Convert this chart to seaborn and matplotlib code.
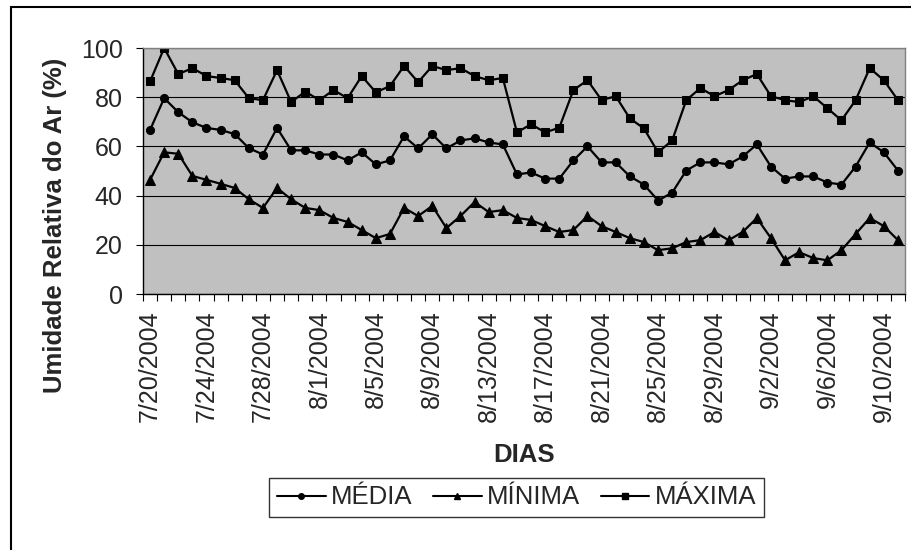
import seaborn as sns
import matplotlib.pyplot as plt
import matplotlib.patches as mpatches
from matplotlib.lines import Line2D
import numpy as np
import pandas as pd

# dados (umidade relativa do ar, %)
media = [66.7, 79.6, 73.9, 69.8, 67.5, 66.7, 65.0, 59.3, 56.7, 67.5,
         58.4, 58.4, 56.7, 56.7, 54.3, 57.6, 52.7, 54.3, 64.1, 59.2,
         64.9, 59.2, 62.4, 63.3, 61.6, 60.8, 48.6, 49.4, 46.9, 46.9,
         54.3, 60.0, 53.5, 53.5, 47.8, 44.5, 38.0, 41.2, 50.2, 53.5,
         53.5, 52.7, 55.9, 60.8, 51.8, 46.9, 47.8, 47.8, 45.3, 44.5,
         51.8, 61.6, 57.6, 50.2]
minima = [46.4, 57.6, 57.0, 48.0, 46.4, 44.8, 43.1, 38.5, 35.0, 43.1,
          38.5, 35.0, 34.1, 30.9, 29.3, 26.0, 22.7, 24.4, 35.0, 31.7,
          35.8, 26.8, 31.7, 37.4, 33.3, 34.1, 30.9, 30.1, 27.6, 25.2,
          26.0, 31.7, 27.6, 25.2, 22.7, 21.1, 17.8, 18.6, 21.1, 21.9,
          25.2, 21.9, 25.2, 30.9, 22.7, 13.7, 17.0, 14.6, 13.7, 17.8,
          24.4, 30.9, 27.6, 21.9]
maxima = [86.4, 100.0, 89.4, 91.8, 88.6, 87.8, 86.9, 79.6, 78.8, 91.0,
          78.0, 82.3, 78.8, 82.9, 79.6, 88.6, 82.0, 84.5, 92.7, 86.1,
          92.7, 91.0, 91.8, 88.6, 86.9, 87.8, 65.7, 69.0, 65.7, 67.6,
          82.9, 86.9, 78.8, 80.4, 71.4, 67.3, 57.6, 62.4, 78.8, 83.7,
          80.4, 82.9, 86.9, 89.4, 80.4, 78.8, 78.0, 80.4, 75.5, 70.6,
          78.8, 91.8, 86.9, 78.8]

dias = pd.date_range('2004-07-20', periods=len(media), freq='D')
rotulos = [f"{d.month}/{d.day}/{d.year}" for d in dias]
idx = np.arange(len(dias))

sns.set_style('white')
plt.rcParams['font.family'] = ['Liberation Sans', 'DejaVu Sans']

fig = plt.figure(figsize=(9.12, 5.5), dpi=100)
ax = fig.add_axes([143 / 912, 1 - 294 / 550, 762 / 912, 246 / 550])
ax.set_facecolor('#C0C0C0')

estilo = dict(color='black', linewidth=1.6, markeredgecolor='black')
sns.lineplot(x=idx, y=media, marker='o', markersize=5.8, ax=ax, **estilo)
sns.lineplot(x=idx, y=minima, marker='^', markersize=7, ax=ax, **estilo)
sns.lineplot(x=idx, y=maxima, marker='s', markersize=5.5, ax=ax, **estilo)

ax.set_xlim(-0.5, len(idx) - 0.5)
ax.set_ylim(0, 100)

# eixo y
ax.set_yticks(np.arange(0, 101, 20))
ax.tick_params(axis='y', which='major', left=True, length=5, width=0.8,
               pad=9.5, labelsize=18, direction='out', color='black')
ax.yaxis.grid(True, color='black', linewidth=0.8)
ax.xaxis.grid(False)

# eixo x: marcas nos limites de cada dia, rótulos a cada 4 dias
ax.set_xticks(np.arange(-0.5, len(idx), 1))
ax.set_xticklabels([])
ax.tick_params(axis='x', which='major', bottom=True, length=5, width=0.8,
               direction='out', color='black')
ax.set_xticks(idx[::4], labels=rotulos[::4], minor=True)
ax.tick_params(axis='x', which='minor', bottom=True, length=0, pad=12,
               labelsize=18, labelrotation=90)

for lado in ['top', 'right']:
    ax.spines[lado].set_color('#808080')
    ax.spines[lado].set_linewidth(1)
for lado in ['left', 'bottom']:
    ax.spines[lado].set_color('black')
    ax.spines[lado].set_linewidth(1)

ax.set_ylabel('Umidade Relativa do Ar (%)', fontsize=18.5, fontweight='bold',
              va='center')
ax.yaxis.set_label_coords((55 - 143) / 762, (294 - 225) / 246)
ax.set_xlabel('DIAS', fontsize=18.5, fontweight='bold', va='center')
ax.xaxis.set_label_coords(0.5, (294 - 455) / 246)

# legenda
handles = [
    Line2D([], [], color='black', linewidth=1.5, marker='o', markersize=4),
    Line2D([], [], color='black', linewidth=1.5, marker='^', markersize=4.5),
    Line2D([], [], color='black', linewidth=1.5, marker='s', markersize=3.8),
]
leg = fig.legend(handles, ['MÉDIA', 'MÍNIMA', 'MÁXIMA'], loc='center',
                 bbox_to_anchor=(516.5 / 912, 1 - 497.5 / 550), ncol=3,
                 fontsize=18.5, frameon=True, fancybox=False, handlelength=1.9,
                 handletextpad=0.2, columnspacing=0.8, borderpad=0.3)
leg.get_frame().set_edgecolor('black')
leg.get_frame().set_linewidth(1)

# moldura da área do gráfico (apenas esquerda e topo visíveis)
fig.add_artist(mpatches.Rectangle((11 / 912, -0.1), 1.2, 1.1 - 7 / 550,
                                  transform=fig.transFigure, fill=False,
                                  edgecolor='black', linewidth=1.5))

fig.savefig('out.png', dpi=100)
